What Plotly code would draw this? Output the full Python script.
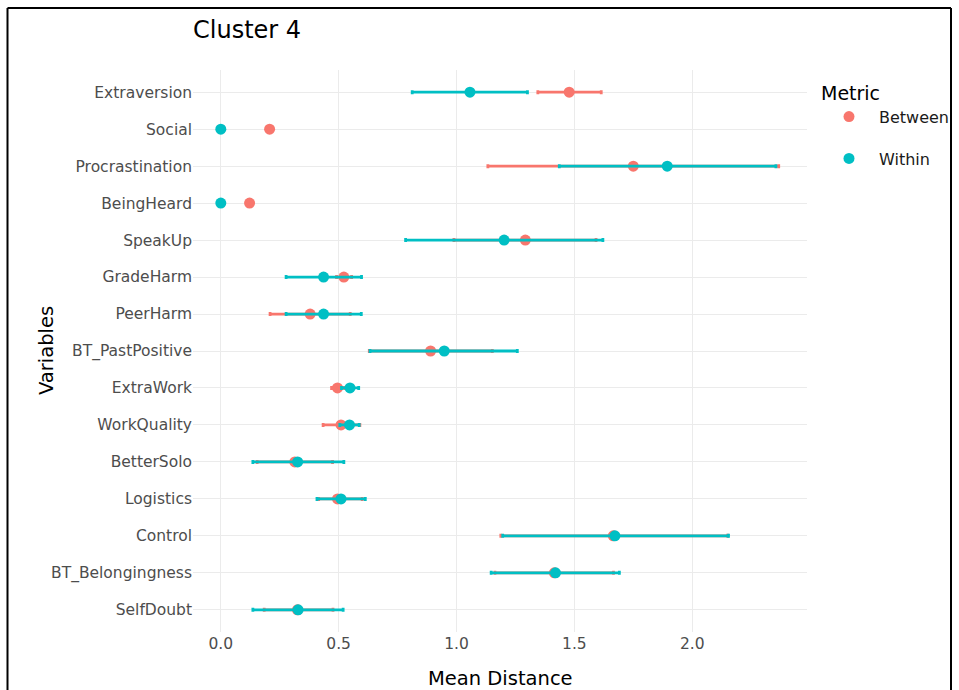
import plotly.graph_objects as go

# Variables, top to bottom
variables = ["Extraversion", "Social", "Procrastination", "BeingHeard", "SpeakUp",
             "GradeHarm", "PeerHarm", "BT_PastPositive", "ExtraWork", "WorkQuality",
             "BetterSolo", "Logistics", "Control", "BT_Belongingness", "SelfDoubt"]

# Between-cluster mean distance with lower / upper interval bounds
between_mean = [1.478, 0.207, 1.750, 0.122, 1.292, 0.522, 0.379, 0.890, 0.495, 0.510,
                0.314, 0.495, 1.665, 1.415, 0.325]
between_low = [1.345, 0.207, 1.133, 0.122, 0.989, 0.491, 0.209, 0.630, 0.470, 0.434,
               0.154, 0.415, 1.188, 1.163, 0.184]
between_high = [1.614, 0.207, 2.367, 0.122, 1.592, 0.555, 0.549, 1.152, 0.525, 0.590,
                0.474, 0.600, 2.150, 1.666, 0.476]

# Within-cluster mean distance with lower / upper interval bounds
within_mean = [1.057, 0.0, 1.894, 0.0, 1.202, 0.436, 0.436, 0.948, 0.548, 0.546,
               0.326, 0.510, 1.672, 1.420, 0.328]
within_low = [0.812, 0.0, 1.436, 0.0, 0.784, 0.277, 0.277, 0.633, 0.512, 0.505,
              0.136, 0.408, 1.196, 1.147, 0.136]
within_high = [1.301, 0.0, 2.355, 0.0, 1.621, 0.597, 0.596, 1.258, 0.585, 0.587,
               0.522, 0.613, 2.154, 1.691, 0.519]

x_ticks = [0.0, 0.5, 1.0, 1.5, 2.0]
x_tick_labels = ["0.0", "0.5", "1.0", "1.5", "2.0"]

RED = "#F8766D"
TEAL = "#00BFC4"
FONT = "DejaVu Sans"

fig = go.Figure()


def add_series(name, mean, low, high, color, group):
    fig.add_trace(go.Scatter(
        x=mean, y=variables, mode="markers", name=name,
        legendgroup=group,
        marker=dict(color=color, size=11, line=dict(width=0)),
        error_x=dict(type="data", symmetric=False,
                     array=[h - m for h, m in zip(high, mean)],
                     arrayminus=[m - l for m, l in zip(mean, low)],
                     color=color, thickness=2.8, width=2),
    ))


add_series("Between", between_mean, between_low, between_high, RED, "b")
add_series("Within", within_mean, within_low, within_high, TEAL, "w")

W, H = 959, 690
L, R, T, B = 193, 152, 70, 58
pw, ph = W - L - R, H - T - B


def px_x(p):
    return (p - L) / pw


def px_y(p):
    return (H - B - p) / ph


# thin black frame around the whole figure
frame = dict(color="black", width=2)
for x0, y0, x1, y1 in [(7.5, 8, 7.5, 700), (7.5, 8, 951, 8), (951, 8, 951, 700)]:
    fig.add_shape(type="line", xref="paper", yref="paper",
                  x0=px_x(x0), y0=px_y(y0), x1=px_x(x1), y1=px_y(y1),
                  line=frame, layer="above")

# axis titles
fig.add_annotation(text="Mean Distance", xref="paper", yref="paper",
                   x=0.5, y=px_y(678), xanchor="center", yanchor="middle",
                   showarrow=False, font=dict(size=19.5, color="#000000", family=FONT))
fig.add_annotation(text="Variables", xref="paper", yref="paper",
                   x=px_x(46), y=0.5, xanchor="center", yanchor="middle",
                   textangle=-90, showarrow=False,
                   font=dict(size=19.5, color="#000000", family=FONT))

fig.update_layout(
    width=W, height=H,
    margin=dict(l=L, r=R, t=T, b=B, autoexpand=False),
    paper_bgcolor="white", plot_bgcolor="white",
    font=dict(family=FONT, color="#000000"),
    title=dict(text="Cluster 4", x=193 / W, xanchor="left",
               y=1 - 30 / H, yanchor="middle",
               font=dict(size=24, color="#000000", family=FONT)),
    xaxis=dict(
        range=[-0.118, 2.487], tickvals=x_ticks, ticktext=x_tick_labels,
        showgrid=True, gridcolor="#EBEBEB", gridwidth=1, zeroline=False,
        showline=False, ticks="", ticklen=0, automargin=False,
        tickfont=dict(size=15.5, color="#4D4D4D", family=FONT),
    ),
    yaxis=dict(
        categoryorder="array", categoryarray=variables[::-1],
        range=[-0.6, len(variables) - 0.4],
        showgrid=True, gridcolor="#EBEBEB", gridwidth=1, zeroline=False,
        showline=False, ticks="", automargin=False,
        tickfont=dict(size=15.5, color="#4D4D4D", family=FONT),
    ),
    legend=dict(
        title=dict(text="Metric", font=dict(size=19, color="#000000")),
        font=dict(size=16, color="#1A1A1A"),
        x=px_x(819), xanchor="left", y=px_y(75), yanchor="top",
        itemwidth=50,
        traceorder="grouped", tracegroupgap=18,
        bgcolor="rgba(0,0,0,0)",
    ),
)

fig.write_html("out.html")
